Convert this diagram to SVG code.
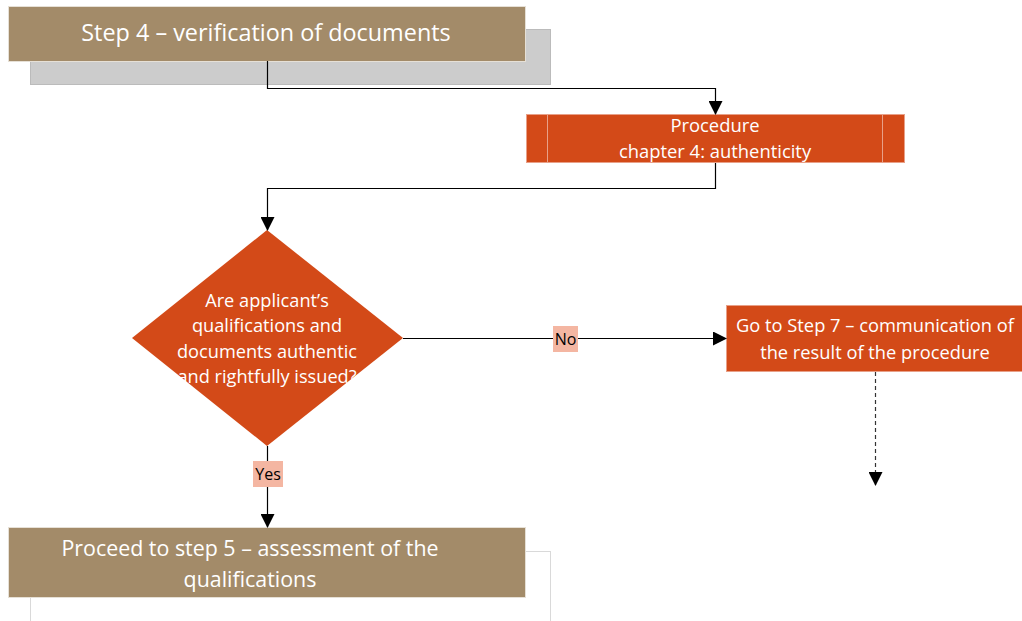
<svg xmlns="http://www.w3.org/2000/svg" width="1022" height="621" viewBox="0 0 1022 621">
<defs>
<marker id="arr2" markerWidth="14" markerHeight="14" refX="13" refY="7" orient="auto" markerUnits="userSpaceOnUse" viewBox="0 0 14 14">
<path d="M0,0 L14,7 L0,14 z" fill="#000"/>
</marker>
</defs>
<style>
.tan{fill:#A38B69;stroke:#E6E0D6;stroke-width:1}
.org{fill:#D34A18;stroke:#E8A088;stroke-width:1}
.wt{font-family:"Open Sans","Liberation Sans",sans-serif;fill:#fff;text-anchor:middle}
.bt{font-family:"Open Sans","Liberation Sans",sans-serif;fill:#000;text-anchor:middle;font-size:16px}
.lbl{fill:#F4B6A2}
.ln{fill:none;stroke:#000;stroke-width:1.2}
</style>
<rect width="1022" height="621" fill="#fff"/>
<g id="step4">
<rect x="30.5" y="29.5" width="520" height="55" fill="#CCCCCC" stroke="#BBBBBB"/>
<rect class="tan" x="8.5" y="6.5" width="517" height="55"/>
<text class="wt" x="266" y="41" font-size="23.4">Step 4 – verification of documents</text>
</g>
<g id="procedure">
<rect class="org" x="526.5" y="114.5" width="378" height="48"/>
<line x1="547.5" y1="114.5" x2="547.5" y2="162.5" stroke="#E8A088"/>
<line x1="882.5" y1="114.5" x2="882.5" y2="162.5" stroke="#E8A088"/>
<text class="wt" x="715" y="132" font-size="18.4">Procedure</text>
<text class="wt" x="715" y="158" font-size="18.4">chapter 4: authenticity</text>
</g>
<g id="decision">
<polygon points="267,230 403,338 267,446 132,338" fill="#D34A18"/>
<text class="wt" x="267" y="307" font-size="18.2">Are applicant’s</text>
<text class="wt" x="267" y="332" font-size="18.2">qualifications and</text>
<text class="wt" x="267" y="358" font-size="18.2">documents authentic</text>
<text class="wt" x="267" y="383" font-size="18.2">and rightfully issued?</text>
</g>
<g id="step7">
<rect class="org" x="726.5" y="305.5" width="300" height="66"/>
<text class="wt" x="875" y="332" font-size="18.3">Go to Step 7 – communication of</text>
<text class="wt" x="875" y="359" font-size="18.3">the result of the procedure</text>
</g>
<g id="step5">
<rect x="30.5" y="551.5" width="520" height="75" fill="#fff" stroke="#D9D9D9"/>
<rect class="tan" x="8.5" y="527.5" width="517" height="70"/>
<text class="wt" x="250" y="556" font-size="21.4">Proceed to step 5 – assessment of the</text>
<text class="wt" x="250" y="587" font-size="21.4">qualifications</text>
</g>
<g id="connectors">
<polyline class="ln" points="267.5,61 267.5,88.5 715.5,88.5 715.5,114" marker-end="url(#arr2)"/>
<polyline class="ln" points="715.5,163 715.5,188.5 267.5,188.5 267.5,230" marker-end="url(#arr2)"/>
<line class="ln" x1="403" y1="338.5" x2="726" y2="338.5" marker-end="url(#arr2)"/>
<line class="ln" x1="267.5" y1="446" x2="267.5" y2="527" marker-end="url(#arr2)"/>
<line x1="875.5" y1="372" x2="875.5" y2="485" stroke="#333" stroke-width="1.2" stroke-dasharray="4,3" marker-end="url(#arr2)"/>
<rect class="lbl" x="553" y="326" width="25" height="26"/>
<text class="bt" x="565.5" y="345">No</text>
<rect class="lbl" x="253" y="461" width="30" height="26"/>
<text class="bt" x="268" y="480">Yes</text>
</g>
</svg>
